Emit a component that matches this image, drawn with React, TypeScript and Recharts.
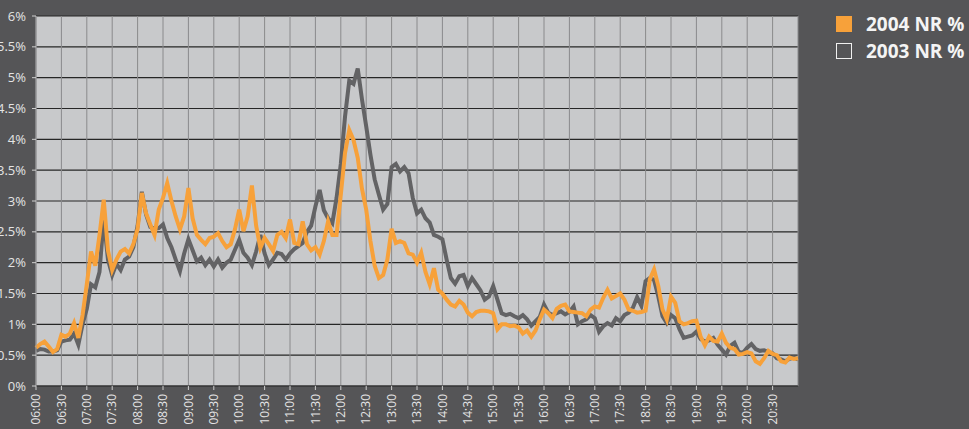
import React from "react";
import { LineChart, Line, XAxis, YAxis, CartesianGrid } from "recharts";

// minutes after 06:00, one sample every 5 minutes (0 .. 900)
const times: number[] = Array.from({ length: 181 }, (_, i) => i * 5);

const nr2004: number[] = [
  0.62, 0.68, 0.72, 0.64, 0.55, 0.6, 0.83, 0.8, 0.85, 1.02, 0.78, 1.15,
  1.65, 2.18, 1.95, 2.45, 3.02, 2.2, 1.88, 2.05, 2.18, 2.22, 2.15, 2.3,
  2.55, 3.13, 2.8, 2.62, 2.45, 2.86, 3.05, 3.29, 3.0, 2.75, 2.54, 2.75,
  3.21, 2.72, 2.45, 2.37, 2.3, 2.4, 2.42, 2.48, 2.35, 2.25, 2.3, 2.54,
  2.86, 2.51, 2.75, 3.25, 2.6, 2.24, 2.4, 2.3, 2.19, 2.45, 2.5, 2.4,
  2.7, 2.32, 2.3, 2.67, 2.3, 2.2, 2.25, 2.13, 2.35, 2.67, 2.45, 2.45,
  3.1, 3.78, 4.15, 3.99, 3.7, 3.2, 2.86, 2.35, 1.95, 1.75, 1.8, 2.05,
  2.55, 2.32, 2.35, 2.32, 2.15, 2.13, 2.0, 2.16, 1.85, 1.65, 1.91, 1.56,
  1.5, 1.4, 1.32, 1.29, 1.38, 1.32, 1.19, 1.13, 1.2, 1.22, 1.22, 1.21,
  1.18, 0.92, 1.0, 1.0, 0.97, 0.98, 0.95, 0.85, 0.9, 0.8, 0.9, 1.08,
  1.24, 1.18, 1.1, 1.25, 1.3, 1.32, 1.21, 1.2, 1.19, 1.18, 1.13, 1.24,
  1.29, 1.27, 1.43, 1.56, 1.42, 1.46, 1.5, 1.4, 1.24, 1.22, 1.19, 1.2,
  1.22, 1.73, 1.89, 1.62, 1.24, 1.08, 1.45, 1.35, 1.05, 1.0, 1.02, 1.05,
  1.06, 0.8, 0.66, 0.8, 0.73, 0.72, 0.85, 0.7, 0.62, 0.6, 0.51, 0.52,
  0.55, 0.53, 0.4, 0.36, 0.45, 0.57, 0.52, 0.5, 0.4, 0.38, 0.46, 0.44,
  0.45,
];

const nr2003: number[] = [
  0.57, 0.6, 0.59, 0.56, 0.56, 0.58, 0.72, 0.74, 0.75, 0.85, 0.67, 1.0,
  1.25, 1.65, 1.6, 1.85, 2.72, 2.05, 1.8, 1.98, 1.88, 2.05, 2.1, 2.25,
  2.6, 3.15, 2.78, 2.58, 2.55, 2.56, 2.62, 2.4, 2.25, 2.05, 1.86, 2.15,
  2.38, 2.2, 2.02, 2.08, 1.96, 2.05, 1.94, 2.05, 1.92, 2.0, 2.05, 2.21,
  2.37, 2.16, 2.08, 1.96, 2.18, 2.45, 2.15, 1.96, 2.05, 2.16, 2.14, 2.05,
  2.15, 2.22, 2.27, 2.32, 2.5, 2.6, 2.91, 3.18, 2.85, 2.72, 2.64, 3.05,
  3.6, 4.37, 4.95, 4.9, 5.15, 4.65, 4.21, 3.75, 3.35, 3.1, 2.86, 2.95,
  3.55, 3.6, 3.48, 3.55, 3.45, 3.05, 2.8, 2.86, 2.72, 2.65, 2.45, 2.42,
  2.38, 2.05, 1.75, 1.66, 1.78, 1.8, 1.62, 1.75, 1.65, 1.55, 1.4, 1.45,
  1.62, 1.4, 1.18, 1.15, 1.17, 1.13, 1.1, 1.15, 1.08, 0.98, 1.05, 1.12,
  1.32, 1.19, 1.15, 1.18, 1.21, 1.16, 1.2, 1.29, 1.0, 1.05, 1.08, 1.15,
  1.1, 0.88, 0.97, 1.02, 0.98, 1.1, 1.05, 1.15, 1.19, 1.27, 1.44, 1.3,
  1.7, 1.75, 1.72, 1.45, 1.13, 1.02, 1.15, 1.1, 0.92, 0.78, 0.8, 0.82,
  0.88, 0.76, 0.72, 0.74, 0.78, 0.67, 0.59, 0.51, 0.65, 0.7, 0.55, 0.54,
  0.62, 0.68, 0.6, 0.57, 0.58, 0.55, 0.53, 0.45, 0.43, 0.4, 0.44, 0.46,
  0.43,
];

const xTicks: number[] = Array.from({ length: 30 }, (_, i) => i * 30);
const yTicks: number[] = [0, 0.5, 1, 1.5, 2, 2.5, 3, 3.5, 4, 4.5, 5, 5.5, 6];
const seriesNames: string[] = ["2004 NR %", "2003 NR %"];

const data = times.map((t, i) => ({ t, a: nr2004[i], b: nr2003[i] }));

const fmtTime = (m: number) => {
  const h = 6 + Math.floor(m / 60);
  const mm = m % 60;
  return `${String(h).padStart(2, "0")}:${String(mm).padStart(2, "0")}`;
};

const FONT = "'Open Sans', sans-serif";

const XTick = (props: any) => {
  const { x, y, payload } = props;
  return (
    <text
      transform={`translate(${x},${y}) rotate(-90)`}
      textAnchor="end"
      dy="0.35em"
      fill="#e4e4e4"
      fontSize={12}
      fontFamily={FONT}
    >
      {fmtTime(payload.value)}
    </text>
  );
};

export default function App() {
  return (
    <div
      style={{
        position: "absolute",
        left: 0,
        top: 0,
        width: 969,
        height: 429,
        background: "#555557",
        overflow: "hidden",
      }}
    >
      <LineChart
        width={969}
        height={429}
        data={data}
        margin={{ top: 16, right: 171, bottom: 0, left: 0 }}
      >
        <CartesianGrid
          fill="#c8c9cb"
          vertical={false}
          stroke="#262626"
          strokeWidth={1.2}
        />
        <CartesianGrid horizontal={false} stroke="#8a8a8c" strokeWidth={1} />
        <XAxis
          dataKey="t"
          type="number"
          domain={[0, 900]}
          ticks={xTicks}
          interval={0}
          height={43}
          tickSize={4}
          tickMargin={4}
          tick={<XTick />}
          axisLine={{ stroke: "#3a3a3a" }}
          tickLine={{ stroke: "#cfcfcf" }}
        />
        <YAxis
          type="number"
          domain={[0, 6]}
          ticks={yTicks}
          interval={0}
          width={36}
          tickSize={4}
          tickMargin={6}
          tickFormatter={(v: number) => `${v}%`}
          tick={{ fill: "#e4e4e4", fontSize: 13, fontFamily: FONT }}
          axisLine={{ stroke: "#9a9a9c" }}
          tickLine={{ stroke: "#cfcfcf" }}
        />
        <Line
          type="linear"
          dataKey="b"
          name={seriesNames[1]}
          stroke="#636365"
          strokeWidth={4}
          dot={false}
          isAnimationActive={false}
        />
        <Line
          type="linear"
          dataKey="a"
          name={seriesNames[0]}
          stroke="#f7a13a"
          strokeWidth={4}
          dot={false}
          isAnimationActive={false}
        />
      </LineChart>
      <div
        style={{
          position: "absolute",
          left: 836,
          top: 10,
          fontFamily: FONT,
          fontWeight: 700,
          fontSize: 19,
          color: "#f4f4f4",
        }}
      >
        <div style={{ display: "flex", alignItems: "center", height: 27 }}>
          <span
            style={{
              display: "inline-block",
              width: 16,
              height: 16,
              background: "#f7a13a",
              marginRight: 14,
            }}
          />
          {seriesNames[0]}
        </div>
        <div style={{ display: "flex", alignItems: "center", height: 27 }}>
          <span
            style={{
              display: "inline-block",
              width: 14,
              height: 14,
              background: "#555557",
              border: "1px solid #f0f0f0",
              marginRight: 14,
            }}
          />
          {seriesNames[1]}
        </div>
      </div>
    </div>
  );
}
